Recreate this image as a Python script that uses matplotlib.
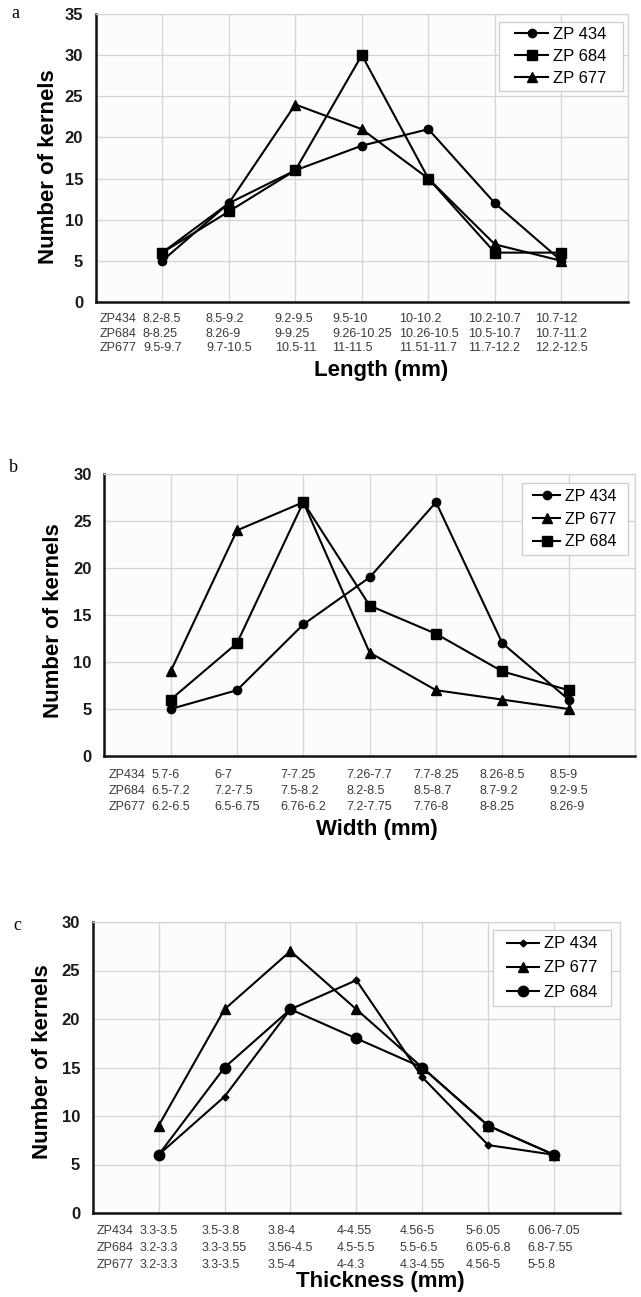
import matplotlib
matplotlib.use("Agg")
import matplotlib.pyplot as plt
from matplotlib.patches import Rectangle
import numpy as np

plt.rcParams['font.family'] = ['Liberation Sans', 'DejaVu Sans']

W, H = 641, 1297

# ---- data ----
categories = [1, 2, 3, 4, 5, 6, 7]
row_names = ["ZP434", "ZP684", "ZP677"]

# panel a: length
a_zp434 = [5, 12, 16, 19, 21, 12, 5]
a_zp684 = [6, 11, 16, 30, 15, 6, 6]
a_zp677 = [6, 12, 24, 21, 15, 7, 5]
a_ranges_434 = ["8.2-8.5", "8.5-9.2", "9.2-9.5", "9.5-10", "10-10.2", "10.2-10.7", "10.7-12"]
a_ranges_684 = ["8-8.25", "8.26-9", "9-9.25", "9.26-10.25", "10.26-10.5", "10.5-10.7", "10.7-11.2"]
a_ranges_677 = ["9.5-9.7", "9.7-10.5", "10.5-11", "11-11.5", "11.51-11.7", "11.7-12.2", "12.2-12.5"]

# panel b: width
b_zp434 = [5, 7, 14, 19, 27, 12, 6]
b_zp677 = [9, 24, 27, 11, 7, 6, 5]
b_zp684 = [6, 12, 27, 16, 13, 9, 7]
b_ranges_434 = ["5.7-6", "6-7", "7-7.25", "7.26-7.7", "7.7-8.25", "8.26-8.5", "8.5-9"]
b_ranges_684 = ["6.5-7.2", "7.2-7.5", "7.5-8.2", "8.2-8.5", "8.5-8.7", "8.7-9.2", "9.2-9.5"]
b_ranges_677 = ["6.2-6.5", "6.5-6.75", "6.76-6.2", "7.2-7.75", "7.76-8", "8-8.25", "8.26-9"]

# panel c: thickness
c_zp434 = [6, 12, 21, 24, 14, 7, 6]
c_zp677 = [9, 21, 27, 21, 15, 9, 6]
c_zp684 = [6, 15, 21, 18, 15, 9, 6]
c_ranges_434 = ["3.3-3.5", "3.5-3.8", "3.8-4", "4-4.55", "4.56-5", "5-6.05", "6.06-7.05"]
c_ranges_684 = ["3.2-3.3", "3.3-3.55", "3.56-4.5", "4.5-5.5", "5.5-6.5", "6.05-6.8", "6.8-7.55"]
c_ranges_677 = ["3.2-3.3", "3.3-3.5", "3.5-4", "4-4.3", "4.3-4.55", "4.56-5", "5-5.8"]


def fx(x):
    return x / W


def fy(y):
    return 1 - y / H


def make_axes(fig, left, right, top, bottom):
    return fig.add_axes([fx(left), fy(bottom), fx(right - left), (bottom - top) / H])


def style_axes(ax, ymax):
    ax.set_xlim(0, 8)
    ax.set_ylim(0, ymax)
    ax.set_facecolor('#fcfcfa')
    ax.set_yticks(np.arange(0, ymax + 1, 5))
    ax.set_xticks(list(categories) + [8])
    ax.set_xticklabels([])
    ax.tick_params(axis='both', length=0)
    ax.tick_params(axis='y', labelsize=12, pad=9, labelcolor='#1a1a1a')
    for lbl in ax.get_yticklabels():
        lbl.set_fontweight('bold')
    ax.grid(True, color='#d4d4d4', lw=0.9)
    ax.set_axisbelow(True)
    for s in ['left', 'bottom']:
        ax.spines[s].set_linewidth(1.8)
        ax.spines[s].set_color('#111111')
    for s in ['top', 'right']:
        ax.spines[s].set_linewidth(0.9)
        ax.spines[s].set_color('#d4d4d4')


def range_rows(ax, r1, r2, r3, off, spacing):
    ax.annotate("\n".join(row_names), xy=(0, 0), xycoords='axes fraction',
                xytext=(4, -off), textcoords='offset pixels', ha='left', va='top',
                fontsize=9, color='#3a3a3a', linespacing=spacing)
    for i, c in enumerate(categories):
        ax.annotate("\n".join([r1[i], r2[i], r3[i]]), xy=(c, 0),
                    xycoords=('data', 'axes fraction'),
                    xytext=(0, -off), textcoords='offset pixels',
                    ha='center', va='top', multialignment='left',
                    fontsize=9, color='#3a3a3a', linespacing=spacing)


def add_legend(ax, x0, y0, x1, y1, size, hl, ls):
    # frame drawn separately: wide side padding, narrow top/bottom padding
    ax.add_patch(Rectangle((fx(x0), fy(y1)), fx(x1 - x0), (y1 - y0) / H,
                           transform=fig.transFigure, facecolor='white',
                           edgecolor='#cccccc', lw=0.9, zorder=4, clip_on=False))
    leg = ax.legend(loc='center', bbox_to_anchor=(fx((x0 + x1) / 2), fy((y0 + y1) / 2)),
                    bbox_transform=fig.transFigure, borderaxespad=0, borderpad=0,
                    frameon=False, fontsize=size, handlelength=hl,
                    labelspacing=ls, handletextpad=0.3)
    leg.set_zorder(5)
    return leg


line_kw = dict(color='black', lw=1.5)

fig = plt.figure(figsize=(W / 100, H / 100), dpi=100)
fig.patch.set_facecolor('white')

# ---------------- panel a ----------------
ax = make_axes(fig, 95.7, 628, 14, 302)
style_axes(ax, 35)
ax.plot(categories, a_zp434, marker='o', ms=6, label='ZP 434', **line_kw)
ax.plot(categories, a_zp684, marker='s', ms=7, label='ZP 684', **line_kw)
ax.plot(categories, a_zp677, marker='^', ms=6.5, label='ZP 677', **line_kw)
range_rows(ax, a_ranges_434, a_ranges_684, a_ranges_677, 11, 1.3)
add_legend(ax, 499, 22, 623, 91, 12, 2.0, 0.42)
fig.text(fx(49), fy(167), "Number of kernels", rotation=90, ha='center', va='center',
         fontsize=16, fontweight='bold')
fig.text(fx(381), fy(371), "Length (mm)", ha='center', va='center',
         fontsize=16, fontweight='bold')
fig.text(fx(15), fy(14), "a", ha='center', va='center', fontsize=13,
         family='Liberation Serif')

# ---------------- panel b ----------------
ax = make_axes(fig, 104.3, 635, 474, 756)
style_axes(ax, 30)
ax.plot(categories, b_zp434, marker='o', ms=6, label='ZP 434', **line_kw)
ax.plot(categories, b_zp677, marker='^', ms=6.5, label='ZP 677', **line_kw)
ax.plot(categories, b_zp684, marker='s', ms=7, label='ZP 684', **line_kw)
range_rows(ax, b_ranges_434, b_ranges_684, b_ranges_677, 13, 1.45)
add_legend(ax, 522, 483, 628, 555, 11.5, 1.7, 0.5)
fig.text(fx(53.4), fy(621), "Number of kernels", rotation=90, ha='center', va='center',
         fontsize=16, fontweight='bold')
fig.text(fx(377), fy(829), "Width (mm)", ha='center', va='center',
         fontsize=16, fontweight='bold')
fig.text(fx(13), fy(467), "b", ha='center', va='center', fontsize=13,
         family='Liberation Serif')

# ---------------- panel c ----------------
ax = make_axes(fig, 92.7, 620, 922, 1213)
style_axes(ax, 30)
ax.plot(categories, c_zp434, marker='D', ms=3.5, label='ZP 434', **line_kw)
ax.plot(categories, c_zp677, marker='^', ms=6.5, label='ZP 677', **line_kw)
ax.plot(categories, c_zp684, marker='o', ms=7.5, label='ZP 684', **line_kw)
range_rows(ax, c_ranges_434, c_ranges_684, c_ranges_677, 12.5, 1.5)
add_legend(ax, 493, 930, 611, 1006, 12, 1.9, 0.55)
fig.text(fx(42.4), fy(1062), "Number of kernels", rotation=90, ha='center', va='center',
         fontsize=16, fontweight='bold')
fig.text(fx(380), fy(1282), "Thickness (mm)", ha='center', va='center',
         fontsize=16, fontweight='bold')
fig.text(fx(17), fy(926), "c", ha='center', va='center', fontsize=13,
         family='Liberation Serif')

fig.savefig("out.png", dpi=100)
